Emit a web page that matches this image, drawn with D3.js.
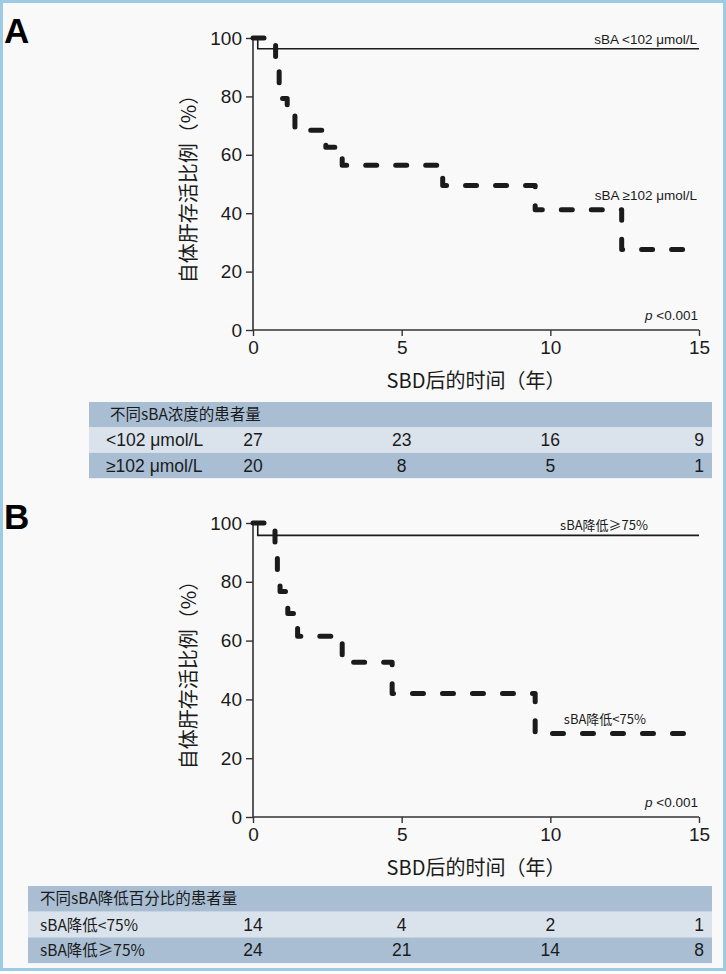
<!DOCTYPE html>
<html><head><meta charset="utf-8">
<script src="https://cdn.jsdelivr.net/npm/d3@7"></script>
<style>body{margin:0;background:#fff;}svg{display:block;}</style>
</head><body>
<script>
// ---------- data ----------
const xTicks = [0, 5, 10, 15];
const yTicks = [0, 20, 40, 60, 80, 100];

// Panel A: sBA < 102 µmol/L (solid) and ≥ 102 µmol/L (dashed)
const timeA_low  = [0, 0.16];
const survA_low  = [100, 96.3];
const timeA_high = [0, 0.76, 0.88, 1.15, 1.41, 2.45, 3.0, 6.38, 9.49, 12.4];
const survA_high = [100, 90, 79.3, 74, 68.4, 62.6, 56.4, 49.5, 41.2, 27.6];

// Panel B: sBA reduction ≥75% (solid) and <75% (dashed)
const timeB_high = [0, 0.16];
const survB_high = [100, 95.8];
const timeB_low  = [0, 0.74, 0.82, 0.91, 1.17, 1.5, 3.0, 4.68, 9.49];
const survB_low  = [100, 88, 83.8, 76.7, 69.2, 61.5, 52.6, 42.0, 28.4];

// number at risk tables
const riskTimes = [0, 5, 10, 15];
const riskTitleA = "不同sBA浓度的患者量";
const riskLabelsA = ["<102 μmol/L", "≥102 μmol/L"];
const riskA_low  = [27, 23, 16, 9];
const riskA_high = [20, 8, 5, 1];
const riskTitleB = "不同sBA降低百分比的患者量";
const riskLabelsB = ["sBA降低<75%", "sBA降低≥75%"];
const riskB_low  = [14, 4, 2, 1];
const riskB_high = [24, 21, 14, 8];

const xMax = 15;
// ---------- drawing ----------
const W = 726, H = 974;
const svg = d3.select("body").append("svg").attr("width", W).attr("height", H);
svg.append("rect").attr("x", 1.5).attr("y", 1.5).attr("width", W - 3).attr("height", 968)
  .attr("fill", "#f9f9f9").attr("stroke", "#9dcbe3").attr("stroke-width", 3);

const FONT = "'Liberation Sans', Arial, sans-serif";
const CJK = "'Noto Sans CJK SC', 'Noto Sans', sans-serif";
const INK = "#1b1b1b";

function panel(o) {
  const x = d3.scaleLinear().domain([0, xMax]).range([253, 699]);
  const y = d3.scaleLinear().domain([0, 100]).range([o.y0, o.y100]);
  const g = svg.append("g");

  g.append("text").attr("x", 4).attr("y", o.letterY).text(o.letter)
    .attr("font-family", FONT).attr("font-weight", "bold").attr("font-size", 35).attr("fill", "#000");

  // axes
  const ya = d3.axisLeft(y).tickValues(yTicks).tickSize(7).tickPadding(4);
  const yg = g.append("g").attr("transform", "translate(253,0)").call(ya);
  const xa = d3.axisBottom(x).tickValues(xTicks).tickSize(6).tickPadding(5);
  const xg = g.append("g").attr("transform", `translate(0,${o.y0})`).call(xa);
  [yg, xg].forEach(a => {
    a.select(".domain").attr("stroke", "#333").attr("stroke-width", 1.6);
    a.selectAll(".tick line").attr("stroke", "#333").attr("stroke-width", 1.4);
    a.selectAll(".tick text").attr("font-family", FONT).attr("font-size", 19).attr("fill", INK);
  });
  yg.select(".domain").attr("d", `M0,${y(100)}V${y(0)}`);
  xg.select(".domain").attr("d", `M${x(0)},0H${x(15)}`);

  // titles
  g.append("text").attr("transform", `translate(196,${(o.y0 + o.y100) / 2}) rotate(-90)`)
    .attr("text-anchor", "middle").attr("font-family", CJK).attr("font-size", 20).attr("fill", INK)
    .text("自体肝存活比例（%）");
  g.append("text").attr("x", 476).attr("y", o.y0 + 58).attr("text-anchor", "middle")
    .attr("font-family", CJK).attr("font-size", 20).attr("fill", INK)
    .text("SBD后的时间（年）");

  const line = d3.line().x(d => x(d[0])).y(d => y(d[1])).curve(d3.curveStepAfter);
  function pts(t, s) {
    const p = t.map((v, i) => [v, s[i]]);
    p.push([xMax, s[s.length - 1]]);
    return p;
  }
  g.append("path").attr("d", line(pts(o.tSolid, o.sSolid))).attr("fill", "none")
    .attr("stroke", INK).attr("stroke-width", 1.6);
  g.append("path").attr("d", line(pts(o.tDash, o.sDash))).attr("fill", "none")
    .attr("stroke", INK).attr("stroke-width", 5).attr("stroke-dasharray", "11,19")
    .attr("stroke-linecap", "round").attr("stroke-linejoin", "round");

  // labels
  g.append("text").attr("x", o.solidLabelX).attr("y", o.solidLabelY).attr("text-anchor", "end")
    .attr("font-family", o.labelFont).attr("font-size", o.labelSize).attr("fill", INK).text(o.solidLabel);
  g.append("text").attr("x", o.dashLabelX).attr("y", o.dashLabelY).attr("text-anchor", "end")
    .attr("font-family", o.labelFont).attr("font-size", o.labelSize).attr("fill", INK).text(o.dashLabel);
  const pt = g.append("text").attr("x", 698).attr("y", y(0) - 10).attr("text-anchor", "end")
    .attr("font-family", FONT).attr("font-size", 13.5).attr("fill", INK);
  pt.append("tspan").attr("font-style", "italic").text("p");
  pt.append("tspan").text(" <0.001");

  // risk table
  const t = o.table;
  const rowH = t.rowH;
  const fills = ["#a9bed3", "#dae2eb", "#a9bed3"];
  fills.forEach((f, i) => {
    g.append("rect").attr("x", t.x0).attr("y", t.y0 + i * rowH).attr("width", 712 - t.x0)
      .attr("height", rowH).attr("fill", f);
  });
  g.append("text").attr("x", t.titleX).attr("y", t.y0 + rowH / 2 + 5.5)
    .attr("font-family", CJK).attr("font-size", 15.5).attr("fill", INK).text(t.title);
  [t.rows[0], t.rows[1]].forEach((r, i) => {
    const cy = t.y0 + (i + 1) * rowH + rowH / 2 + 6;
    g.append("text").attr("x", t.labelX).attr("y", cy).attr("font-family", t.labelFont)
      .attr("font-size", t.labelSize).attr("fill", INK).text(t.labels[i]);
    g.selectAll(null).data(r).enter().append("text")
      .attr("x", (d, j) => x(riskTimes[j])).attr("y", cy).attr("text-anchor", "middle")
      .attr("font-family", FONT).attr("font-size", 17.5).attr("fill", INK).text(d => d);
  });
}

panel({
  letter: "A", letterY: 43, y0: 330, y100: 38,
  tSolid: timeA_low, sSolid: survA_low, tDash: timeA_high, sDash: survA_high,
  solidLabel: "sBA <102 μmol/L", solidLabelX: 697, solidLabelY: 44,
  dashLabel: "sBA ≥102 μmol/L", dashLabelX: 697, dashLabelY: 200,
  labelFont: FONT, labelSize: 13.5,
  table: { x0: 89, y0: 402, rowH: 25.4, titleX: 110, title: riskTitleA, labelX: 106,
    labels: riskLabelsA, labelFont: FONT, labelSize: 17.5, rows: [riskA_low, riskA_high] }
});

panel({
  letter: "B", letterY: 529, y0: 817, y100: 523,
  tSolid: timeB_high, sSolid: survB_high, tDash: timeB_low, sDash: survB_low,
  solidLabel: "sBA降低≥75%", solidLabelX: 648, solidLabelY: 530,
  dashLabel: "sBA降低<75%", dashLabelX: 646, dashLabelY: 724,
  labelFont: CJK, labelSize: 13,
  table: { x0: 28, y0: 886, rowH: 25.7, titleX: 40, title: riskTitleB, labelX: 40,
    labels: riskLabelsB, labelFont: CJK, labelSize: 15.5, rows: [riskB_low, riskB_high] }
});
</script>
</body></html>
